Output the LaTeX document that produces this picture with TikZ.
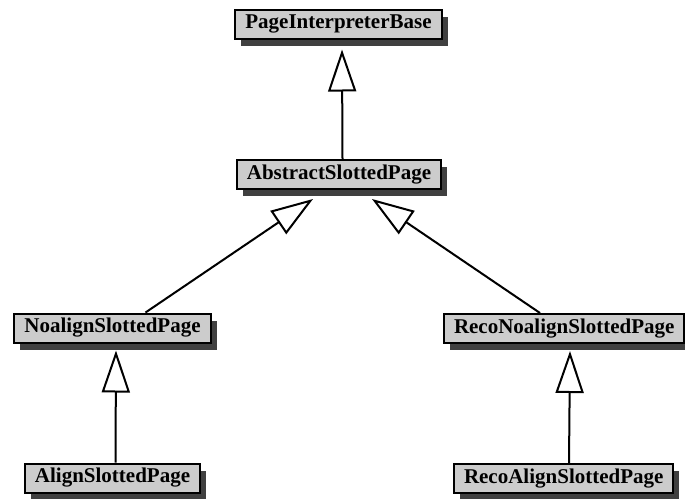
\documentclass[tikz,border=0pt]{standalone}
\usepackage{fontspec}
\setmainfont{Liberation Serif}
\usetikzlibrary{arrows.meta,shadows}
\definecolor{boxfill}{RGB}{204,204,204}
\definecolor{shadowgray}{RGB}{64,64,64}
\begin{document}
\begin{tikzpicture}[x=1pt,y=-1pt,
  classbox/.style={draw=black, line width=2pt, fill=boxfill,
    font=\fontsize{21}{25}\selectfont\bfseries,
    inner xsep=10pt, inner ysep=0pt, minimum height=29pt,
    drop shadow={shadow xshift=6pt, shadow yshift=-7pt, fill=shadowgray, opacity=1}},
  inherit/.style={draw=black, line width=2pt,
    -{Triangle[open, length=42pt, width=28pt, line width=2pt]}}]
  \useasboundingbox (0,0) rectangle (685,498);

  % class boxes
  \node[classbox] (pib) at (338.5,24) {PageInterpreterBase};
  \node[classbox] (asp) at (339,174.5) {AbstractSlottedPage};
  \node[classbox] (nsp) at (112.5,328) {NoalignSlottedPage};
  \node[classbox, anchor=north west] (rnsp) at (443,313) {RecoNoalignSlottedPage};
  \node[classbox] (alsp) at (112.5,478) {AlignSlottedPage};
  \node[classbox, anchor=north west] (rasp) at (453,463) {RecoAlignSlottedPage};

  % inheritance arrows
  \draw[inherit] ([xshift=3.5pt]asp.north) -- ([xshift=3.5pt,yshift=-10pt]pib.south);
  \draw[inherit] ([xshift=33pt]nsp.north) -- ([xshift=-26pt,yshift=-9pt]asp.south);
  \draw[inherit] ([xshift=97pt]rnsp.north west) -- ([xshift=33pt,yshift=-9pt]asp.south);
  \draw[inherit] ([xshift=3pt]alsp.north) -- ([xshift=3.5pt,yshift=-7pt]nsp.south);
  \draw[inherit] ([xshift=116pt]rasp.north west) -- ([xshift=127pt,yshift=-7pt]rnsp.south west);
\end{tikzpicture}
\end{document}
